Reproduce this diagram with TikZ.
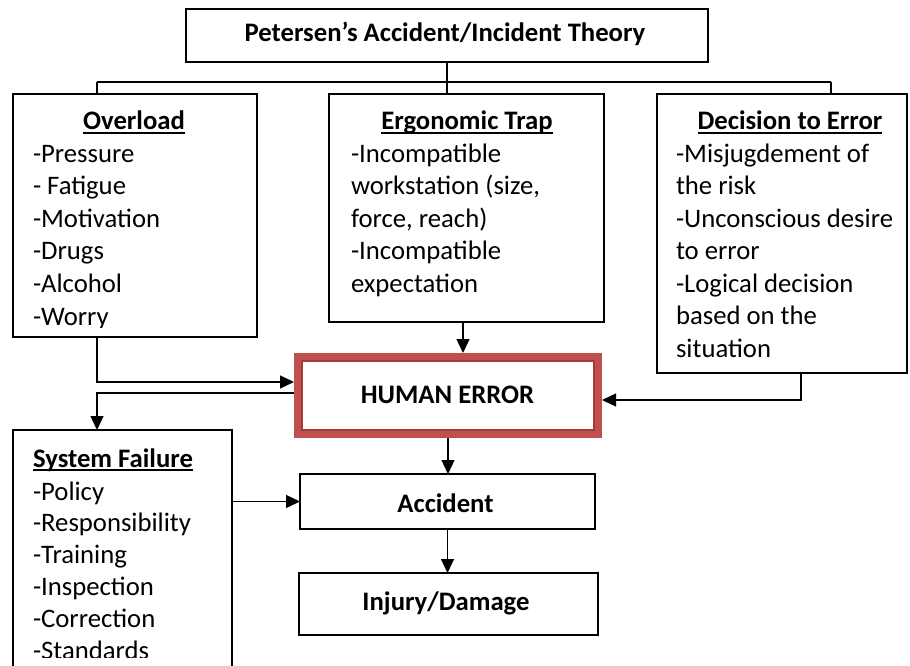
\documentclass[tikz,border=0pt]{standalone}
\usepackage{fontspec}
\setmainfont{Carlito}
\usetikzlibrary{arrows.meta}
\definecolor{heband}{HTML}{C0504D}
\definecolor{heline}{HTML}{A33B3B}
\begin{document}
\begin{tikzpicture}[x=1pt,y=-1pt,
  box/.style={draw=black, line width=1.4pt, rectangle, inner sep=0pt, outer sep=0pt},
  txt/.style={inner sep=0pt, outer sep=0pt, font=\fontsize{26.7}{32}\selectfont, anchor=base west},
  hd/.style={inner sep=0pt, outer sep=0pt, font=\fontsize{26.7}{32}\selectfont\bfseries, anchor=base},
  ul/.style={line width=1.6pt},
  arr/.style={line width=1.3pt, -{Triangle[length=14pt,width=13pt]}},
  link/.style={line width=1.3pt}]
\useasboundingbox (0,0) rectangle (910,666);
\fill[white] (0,0) rectangle (910,666);

% boxes
\node[box, minimum width=522pt, minimum height=53pt] (title) at (447,35.5) {};
\node[box, minimum width=244pt, minimum height=243pt] (over) at (135,215.5) {};
\node[box, minimum width=275pt, minimum height=228pt] (erg) at (466.5,208) {};
\node[box, minimum width=250pt, minimum height=279pt] (dec) at (782,233.5) {};
\node[box, minimum width=219pt, minimum height=250pt] (sys) at (122.5,555) {};
\node[box, minimum width=295pt, minimum height=55pt] (acc) at (447.5,501.5) {};
\node[box, minimum width=299pt, minimum height=62pt] (inj) at (448.5,604) {};
\node[draw=heband, line width=8pt, rectangle, inner sep=0pt,
      minimum width=300pt, minimum height=77pt] (he) at (448,395.5) {};
\draw[heline, line width=1.6pt] ([shift={(7.8,7.8)}]he.north west) rectangle ([shift={(-7.8,-7.8)}]he.south east);

% texts
\node[hd] (tT) at (445,42) {Petersen’s Accident/Incident Theory};
\node[hd] (tH) at (447.5,403) {HUMAN ERROR};
\node[hd] (tA) at (445.5,512) {Accident};
\node[hd] (tI) at (446,610) {Injury/Damage};

\node[hd] (hO) at (134,130) {Overload};
\node[hd] (hE) at (467,130) {Ergonomic Trap};
\node[hd] (hD) at (790,130) {Decision to Error};
\node[hd, anchor=base west] (hS) at (33,467) {System Failure};
\foreach \h in {hO,hE,hD,hS}
  \draw[ul] ([yshift=-3pt]\h.base west) -- ([yshift=-3pt]\h.base east);

\begin{scope}
\clip (13,94) rectangle (257,327.5);
\foreach \t [count=\i] in {-Pressure,- Fatigue,-Motivation,-Drugs,-Alcohol,-Worry}
  \node[txt, name=o\i] at (33,{162+32.6*(\i-1)}) {\t};
\end{scope}

\foreach \t [count=\i] in {-Incompatible,{workstation (size,},{force, reach)},-Incompatible,expectation}
  \node[txt, name=e\i] at (351,{162+32.5*(\i-1)}) {\t};

\foreach \t [count=\i] in {-Misjugdement of,the risk,-Unconscious desire,to error,-Logical decision,based on the,situation}
  \node[txt, name=d\i] at (676,{162+32.5*(\i-1)}) {\t};

\begin{scope}
\clip (13,430) rectangle (232,657.5);
\foreach \t [count=\i] in {-Policy,-Responsibility,-Training,-Inspection,-Correction,-Standards}
  \node[txt, name=s\i] at (33,{500+31.8*(\i-1)}) {\t};
\end{scope}

% connectors
\coordinate (busL) at (97,82);
\coordinate (busR) at (831,82);
\draw[link] (busL) -- (busR);
\draw[link] (title.south) -- (title.south |- erg.north);
\draw[link] (busL) -- (busL |- over.north);
\draw[link] (busR) -- (busR |- dec.north);

\draw[arr] (busL |- over.south) |- ([yshift=13.5pt]he.west);
\draw[arr] ([yshift=2.5pt]he.west) -| (busL |- sys.north);
\draw[arr] ([xshift=-3.5pt]erg.south) -- ([xshift=-3.5pt]erg.south |- he.north);
\draw[arr] ([xshift=19pt]dec.south) |- ([yshift=-4.5pt]he.east);
\draw[arr] (he.south) -- (he.south |- acc.north);
\draw[arr] (sys.east |- acc.west) -- (acc.west);
\draw[arr] (acc.south) -- (acc.south |- inj.north);
\end{tikzpicture}
\end{document}
